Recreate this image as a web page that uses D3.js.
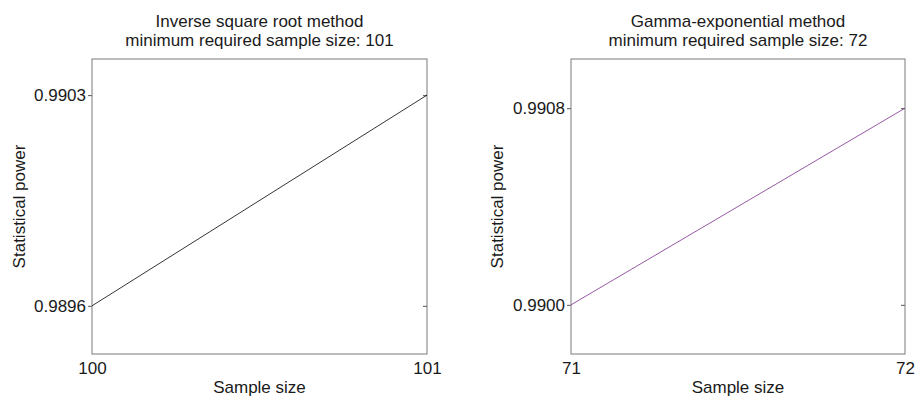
<!DOCTYPE html>
<html><head><meta charset="utf-8">
<script src="https://cdn.jsdelivr.net/npm/d3@7"></script>
<style>
body {
    margin: 0;
    background: #fff;
}

text {
    font-family: "Liberation Sans", Arial, sans-serif;
    fill: #1a1a1a;
}

.box {
    fill: none;
    stroke: #7a7a7a;
    stroke-width: 1px;
}

.tick line {
    stroke: #555;
}
</style></head><body>
<svg id="chart" width="916" height="403"></svg>

<script>
// sample sizes (x) and statistical power (y) for each method
const titles = [
    ["Inverse square root method", "minimum required sample size: 101"],
    ["Gamma-exponential method", "minimum required sample size: 72"]
];
const sampleSizes = [[100, 101], [71, 72]];
const powerValues = [[0.9896, 0.9903], [0.9900, 0.9908]];
const yTickLabels = [["0.9896", "0.9903"], ["0.9900", "0.9908"]];
const yLimits = [[0.98944, 0.99042], [0.9898, 0.9910]];
const lineColors = ["#000000", "#7E2F8E"];

const svg = d3.select("#chart");

// pixel boxes of the two axes
const boxes = [
    { left: 92, right: 427, top: 59, bottom: 354, labelX: 25 },
    { left: 571, right: 905, top: 59, bottom: 354, labelX: 503 }
];

boxes.forEach((b, i) => {
    const x = d3.scaleLinear().domain(d3.extent(sampleSizes[i])).range([b.left, b.right]);
    const y = d3.scaleLinear().domain(yLimits[i]).range([b.bottom, b.top]);

    const g = svg.append("g");

    // ticks outside on the left, with labels
    const yAxis = d3.axisLeft(y)
        .tickValues(powerValues[i])
        .tickFormat((d, k) => yTickLabels[i][k])
        .tickSize(4)
        .tickPadding(2);
    g.append("g")
        .attr("transform", `translate(${b.left},0)`)
        .call(yAxis)
        .call(a => a.select(".domain").remove())
        .selectAll("text")
        .attr("font-size", 17)
        .attr("font-family", null);

    // small inner ticks on the right
    g.append("g")
        .attr("transform", `translate(${b.right},0)`)
        .call(d3.axisRight(y).tickValues(powerValues[i]).tickSize(-4).tickFormat(""))
        .call(a => a.select(".domain").remove());

    const xAxis = d3.axisBottom(x)
        .tickValues(sampleSizes[i])
        .tickFormat(d3.format("d"))
        .tickSize(0)
        .tickPadding(8);
    g.append("g")
        .attr("transform", `translate(0,${b.bottom})`)
        .call(xAxis)
        .call(a => a.select(".domain").remove())
        .selectAll("text")
        .attr("font-size", 17)
        .attr("font-family", null);

    g.append("rect")
        .attr("class", "box")
        .attr("x", b.left)
        .attr("y", b.top)
        .attr("width", b.right - b.left)
        .attr("height", b.bottom - b.top);

    const line = d3.line()
        .x((d, k) => x(sampleSizes[i][k]))
        .y(d => y(d));
    g.append("path")
        .datum(powerValues[i])
        .attr("d", line)
        .attr("fill", "none")
        .attr("stroke", lineColors[i])
        .attr("stroke-width", 0.8);

    const cx = (b.left + b.right) / 2;
    g.append("text")
        .attr("text-anchor", "middle")
        .attr("font-size", 17)
        .selectAll("tspan")
        .data(titles[i])
        .enter().append("tspan")
        .attr("x", cx)
        .attr("y", (d, k) => 27 + k * 18.5)
        .text(d => d);

    g.append("text")
        .attr("text-anchor", "middle")
        .attr("font-size", 17)
        .attr("x", cx)
        .attr("y", 393)
        .text("Sample size");

    g.append("text")
        .attr("text-anchor", "middle")
        .attr("font-size", 17)
        .attr("transform", `translate(${b.labelX},${(b.top + b.bottom) / 2}) rotate(-90)`)
        .text("Statistical power");
});
</script></body></html>
